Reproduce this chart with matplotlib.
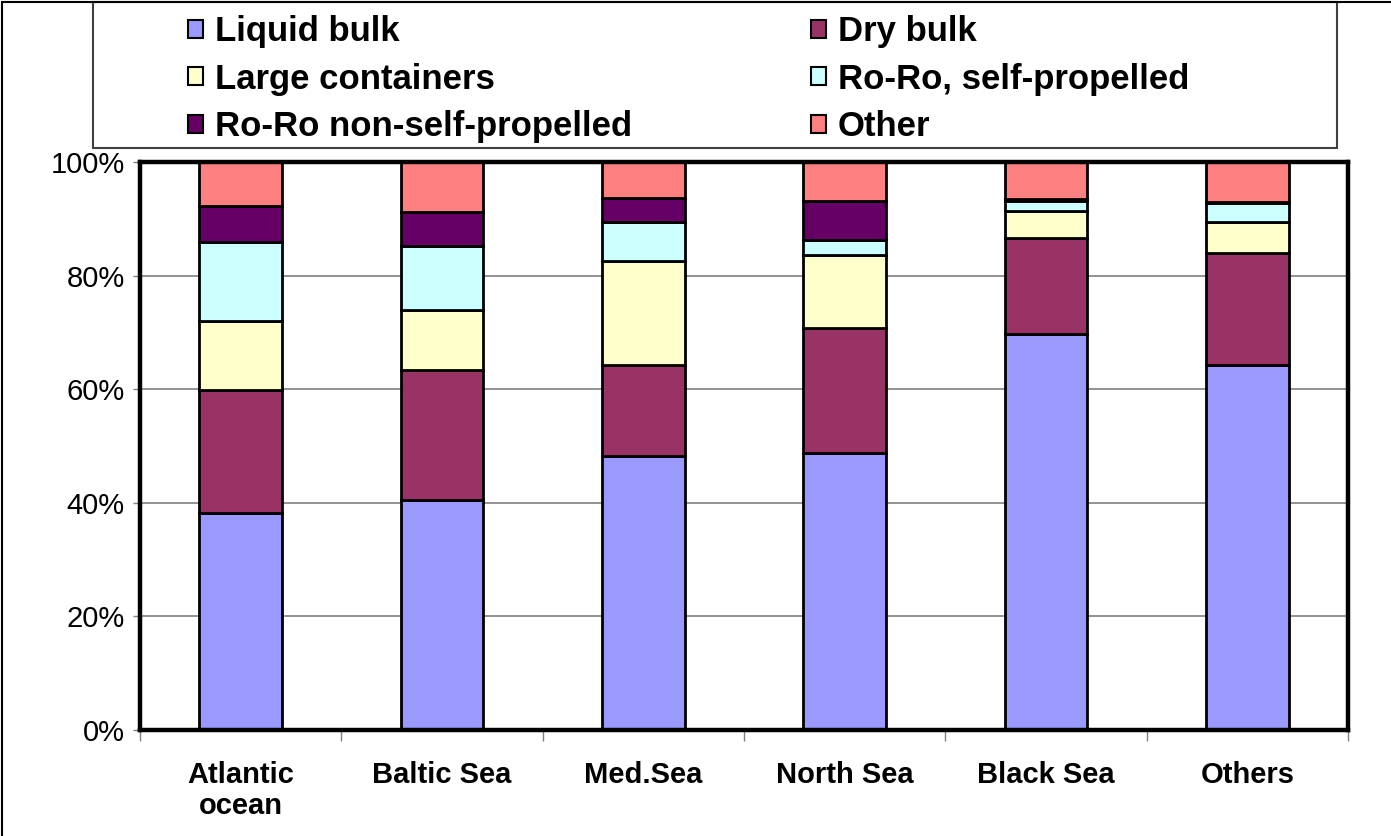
import numpy as np
import matplotlib
matplotlib.use("Agg")
import matplotlib.pyplot as plt
from matplotlib.patches import Patch, Rectangle
from matplotlib.ticker import FixedLocator, PercentFormatter

plt.rcParams['font.family'] = ['Liberation Sans', 'DejaVu Sans']

# categories and shares (% of total)
regions = ['Atlantic\nocean', 'Baltic Sea', 'Med.Sea', 'North Sea', 'Black Sea', 'Others']
liquid_bulk = [38.2, 40.5, 48.2, 48.8, 69.8, 64.3]
dry_bulk = [21.6, 22.9, 16.1, 21.9, 16.9, 19.7]
large_containers = [12.2, 10.5, 18.3, 12.9, 4.6, 5.5]
roro_self = [13.9, 11.3, 6.8, 2.7, 1.8, 3.2]
roro_non_self = [6.4, 6.0, 4.2, 6.9, 0.3, 0.3]
other = [7.7, 8.8, 6.4, 6.8, 6.6, 7.0]

series_names = ['Liquid bulk', 'Dry bulk', 'Large containers',
                'Ro-Ro, self-propelled', 'Ro-Ro non-self-propelled', 'Other']
series_vals = [liquid_bulk, dry_bulk, large_containers, roro_self, roro_non_self, other]
colors = ['#9999FF', '#993366', '#FFFFCC', '#CCFFFF', '#660066', '#FF8080']

W, H = 1391, 836
fig = plt.figure(figsize=(W / 100, H / 100), dpi=100)
ax = fig.add_axes([140 / W, 1 - 730 / H, 1208 / W, 568 / H])

x = np.arange(len(regions))
bottom = np.zeros(len(regions))
for name, vals, col in zip(series_names, series_vals, colors):
    ax.bar(x, vals, width=0.41, bottom=bottom, color=col, edgecolor='black',
           linewidth=2.0, label=name, zorder=3)
    bottom += np.array(vals)

ax.set_xlim(-0.5, len(regions) - 0.5)
ax.set_ylim(0, 100)
ax.set_yticks([0, 20, 40, 60, 80, 100])
ax.yaxis.set_major_formatter(PercentFormatter(decimals=0))
ax.grid(axis='y', color='#808080', linewidth=1.2, zorder=0)
for s in ax.spines.values():
    s.set_linewidth(3.2)
    s.set_color('black')
    s.set_zorder(5)

ax.tick_params(axis='y', labelsize=21, length=5, width=1, color='#808080', pad=6)
ax.set_xticks(x)
ax.set_xticklabels(regions, fontsize=21, fontweight='bold', linespacing=1.15)
ax.tick_params(axis='x', length=0, pad=22)
ax.xaxis.set_minor_locator(FixedLocator(np.arange(-0.5, len(regions), 1.0)))
ax.tick_params(axis='x', which='minor', length=8, width=1, color='#808080')

# legend box and outer chart border
fig.add_artist(Rectangle((93 / W, 1 - 148 / H), (1337 - 93) / W, 146 / H,
                         transform=fig.transFigure, fill=False,
                         edgecolor='#404040', linewidth=1.5))
fig.add_artist(Rectangle((2 / W, -0.1), 1.2, 1 - 2 / H + 0.1,
                         transform=fig.transFigure, fill=False,
                         edgecolor='black', linewidth=1.5))

handles = [Patch(facecolor=c, edgecolor='black', linewidth=1.5) for c in colors]
for start, xpos in [(0, 188), (1, 811)]:
    idx = list(range(start, 6, 2))
    leg = fig.legend([handles[i] for i in idx], [series_names[i] for i in idx],
                     loc='upper left', bbox_to_anchor=(xpos / W, 1 - 15 / H),
                     frameon=False, prop={'weight': 'bold', 'size': 25},
                     handlelength=0.42, handleheight=0.42, handletextpad=0.35,
                     labelspacing=0.42, borderpad=0, borderaxespad=0)

fig.savefig('out.png', dpi=100)
